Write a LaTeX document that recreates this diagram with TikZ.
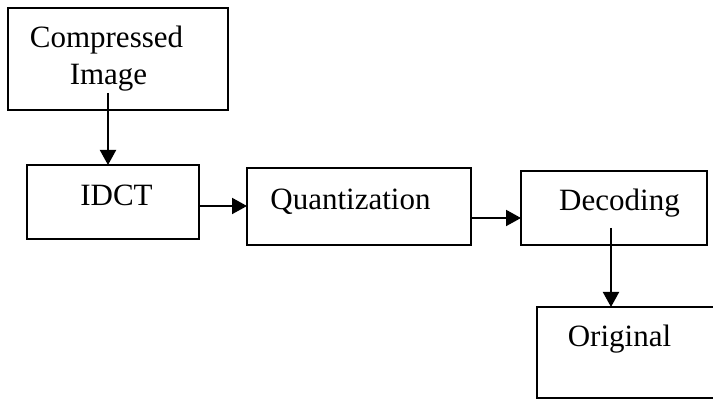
\documentclass[tikz,border=0pt]{standalone}
\usepackage{fontspec}
\setmainfont{Liberation Serif}
\usetikzlibrary{arrows.meta}
\begin{document}
\begin{tikzpicture}[x=0.5pt,y=-0.5pt,
  box/.style={draw=black,line width=1pt,rectangle,inner sep=0pt,outer sep=0pt},
  lbl/.style={anchor=base,inner sep=0pt,font=\fontsize{15.5pt}{18pt}\selectfont},
  arr/.style={line width=1pt,-{Triangle[length=7.5pt,width=8pt]}}]
\useasboundingbox (0,0) rectangle (713,400);
\clip (0,0) rectangle (713,400);
\node[box,minimum width=110pt,minimum height=51pt] (comp) at (118,59) {};
\node[box,minimum width=86pt,minimum height=37pt] (idct) at (113,202) {};
\node[box,minimum width=112pt,minimum height=38.5pt] (quant) at (359,206.5) {};
\node[box,minimum width=93pt,minimum height=37pt] (dec) at (614,208) {};
\node[box,minimum width=101.5pt,minimum height=45.5pt] (orig) at (638.5,352.5) {};
\node[lbl] (t1) at (106.5,48) {Compressed};
\node[lbl] (t2) at (108.5,85) {Image};
\node[lbl] (t3) at (116.5,206) {IDCT};
\node[lbl] (t4) at (350.5,210) {Quantization};
\node[lbl] (t5) at (619.5,211) {Decoding};
\node[lbl] (t6) at (619.5,347) {Original};
\coordinate (c1) at (108,93);
\coordinate (c2) at (611,228);
\coordinate (c3) at (0,206);
\coordinate (c4) at (0,218);
\draw[arr] (c1) -- (c1 |- idct.north);
\draw[arr] (idct.east |- c3) -- (quant.west |- c3);
\draw[arr] (quant.east |- c4) -- (dec.west |- c4);
\draw[arr] (c2) -- (c2 |- orig.north);
\end{tikzpicture}
\end{document}
